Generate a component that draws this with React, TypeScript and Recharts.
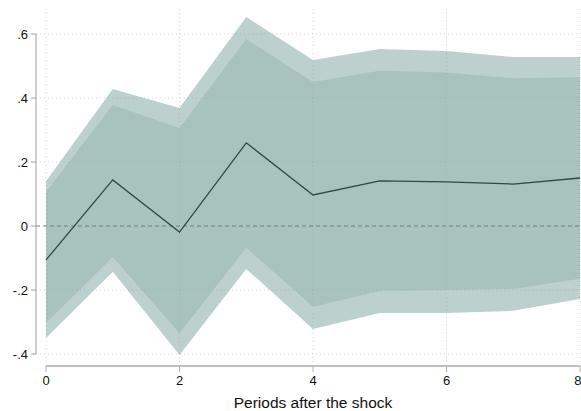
import {
    ComposedChart,
    Area,
    Line,
    XAxis,
    YAxis,
    ReferenceLine,
    Label,
} from 'recharts'

// impulse response and confidence bands, by period after the shock
const periods = [0, 1, 2, 3, 4, 5, 6, 7, 8]
const irf = [-0.106, 0.144, -0.019, 0.26, 0.097, 0.141, 0.138, 0.131, 0.15]
const lower90 = [-0.35, -0.143, -0.403, -0.134, -0.322, -0.272, -0.272, -0.265, -0.228]
const upper90 = [0.14, 0.428, 0.369, 0.653, 0.519, 0.553, 0.547, 0.528, 0.528]
const lower68 = [-0.303, -0.097, -0.335, -0.068, -0.252, -0.203, -0.2, -0.197, -0.165]
const upper68 = [0.106, 0.378, 0.306, 0.584, 0.45, 0.485, 0.48, 0.462, 0.465]

const xTicks = [0, 2, 4, 6, 8]
const yTicks = [-0.4, -0.2, 0, 0.2, 0.4, 0.6]

const X_MIN = -0.15
const Y_MIN = -0.4375
const Y_MAX = 0.6875

const data = periods.map((p, i) => ({
    period: p,
    irf: irf[i],
    outer: [lower90[i], upper90[i]],
    inner: [lower68[i], upper68[i]],
}))

const fmtY = (v: number) => {
    if (v === 0) return '0'
    const s = v.toFixed(1)
    return s.replace('0.', '.')
}

const font = '"Liberation Sans", Arial, sans-serif'
const gridColor = 'rgba(150,160,158,0.45)'

export default function App() {
    return (
        <div style={{ position: 'absolute', left: 0, top: 0, width: 581, height: 411, background: '#fff' }}>
            <ComposedChart
                width={581}
                height={411}
                data={data}
                margin={{ top: 6, right: 1, left: 0, bottom: 0 }}
                style={{ fontFamily: font }}
            >
                <XAxis
                    dataKey="period"
                    type="number"
                    domain={[X_MIN, 8]}
                    ticks={xTicks}
                    axisLine={false}
                    tickSize={6}
                    tickMargin={4}
                    tickLine={{ stroke: '#b0b0b0' }}
                    tick={{ fill: '#111', fontSize: 13 }}
                    height={45}
                    allowDataOverflow
                >
                    {/* centred under the 0..8 span rather than the whole plot */}
                    <Label
                        value="Periods after the shock"
                        position="insideBottom"
                        offset={3}
                        dx={5}
                        style={{ fill: '#111', fontSize: 15.5 }}
                    />
                </XAxis>
                <YAxis
                    type="number"
                    domain={[Y_MIN, Y_MAX]}
                    ticks={yTicks}
                    tickFormatter={fmtY}
                    axisLine={false}
                    tickSize={5}
                    tickMargin={3}
                    tickLine={{ stroke: '#a0a0a0' }}
                    tick={{ fill: '#111', fontSize: 13 }}
                    width={36}
                    allowDataOverflow
                />
                <Area
                    dataKey="outer"
                    type="linear"
                    stroke="none"
                    fill="#bcd1ce"
                    fillOpacity={1}
                    isAnimationActive={false}
                />
                <Area
                    dataKey="inner"
                    type="linear"
                    stroke="none"
                    fill="#a8c2be"
                    fillOpacity={1}
                    isAnimationActive={false}
                />
                {[-0.4, -0.2, 0.2, 0.4, 0.6].map(v => (
                    <ReferenceLine
                        key={'h' + v}
                        y={v}
                        stroke={gridColor}
                        strokeDasharray="1 3"
                    />
                ))}
                {xTicks.map(v => (
                    <ReferenceLine
                        key={'v' + v}
                        x={v}
                        stroke={gridColor}
                        strokeDasharray="1 3"
                    />
                ))}
                <ReferenceLine y={0} stroke="#6f807d" strokeDasharray="4 3" />
                {/* axis lines only span the tick range */}
                <ReferenceLine
                    segment={[{ x: X_MIN, y: -0.4 }, { x: X_MIN, y: 0.6 }]}
                    stroke="#a0a0a0"
                    strokeWidth={1}
                    ifOverflow="visible"
                />
                <ReferenceLine
                    segment={[{ x: 0, y: Y_MIN }, { x: 8, y: Y_MIN }]}
                    stroke="#c0c0c0"
                    strokeWidth={2}
                    ifOverflow="visible"
                />
                <Line
                    dataKey="irf"
                    type="linear"
                    stroke="#2e4a45"
                    strokeWidth={1.3}
                    dot={false}
                    isAnimationActive={false}
                />
            </ComposedChart>
        </div>
    )
}
